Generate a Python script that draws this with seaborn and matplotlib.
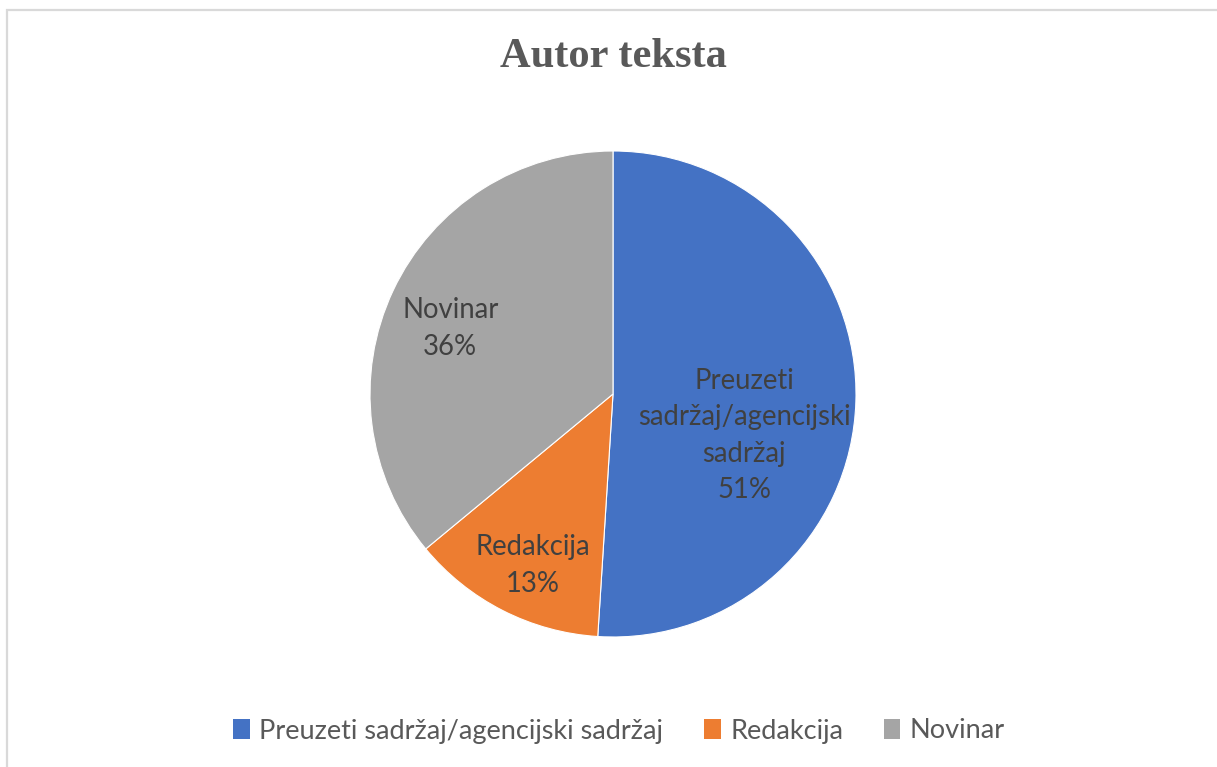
import matplotlib
matplotlib.use("Agg")
import matplotlib.pyplot as plt
import matplotlib.patches as mpatches
import seaborn as sns

# data
categories = ["Preuzeti sadržaj/agencijski sadržaj", "Redakcija", "Novinar"]
inside_labels = ["Preuzeti\nsadržaj/agencijski\nsadržaj", "Redakcija", "Novinar"]
shares = [51, 13, 36]
colors = ["#4472C4", "#ED7D31", "#A5A5A5"]

# label placement inside the pie (in radius units)
label_xy = [(0.54, -0.17), (-0.33, -0.705), (-0.67, 0.27)]

sns.set_theme(style="white")
plt.rcParams["font.family"] = ["Lato", "DejaVu Sans"]

W, H = 1217, 767
fig = plt.figure(figsize=(W / 100, H / 100), dpi=100)

# light border (only top and left edges visible in the reference)
fig.add_artist(mpatches.Rectangle((7 / W, -0.1), 1.2, 1 - 10 / H + 0.1,
                                  transform=fig.transFigure, fill=False,
                                  edgecolor="#D9D9D9", linewidth=1.6))

cx, cy, r = 613, 394, 243
ax = fig.add_axes([(cx - r) / W, (H - cy - r) / H, 2 * r / W, 2 * r / H])
wedges, _ = ax.pie(shares, colors=colors, startangle=90, counterclock=False,
                   radius=1, wedgeprops=dict(edgecolor="white", linewidth=0.8))
ax.set_xlim(-1, 1)
ax.set_ylim(-1, 1)
ax.set_aspect("equal")
ax.axis("off")

for lab, val, (x, y) in zip(inside_labels, shares, label_xy):
    ax.text(x, y, f"{lab}\n{val}%", ha="center", va="center", fontsize=19.8,
            color="#404040", linespacing=1.5)

fig.text(cx / W, 1 - 57 / H, "Autor teksta", ha="center", va="center",
         fontsize=30.6, fontweight="bold", color="#595959",
         family=["Liberation Serif", "DejaVu Serif"])

handles = [mpatches.Patch(facecolor=c, edgecolor="none") for c in colors]
fig.legend(handles, categories, loc="center", bbox_to_anchor=(619 / W, 1 - 731 / H),
           ncol=3, frameon=False, fontsize=19.5, labelcolor="#595959",
           handlelength=0.62, handleheight=0.75, handletextpad=0.35, columnspacing=1.5)

fig.savefig("out.png", dpi=100, facecolor="white")
